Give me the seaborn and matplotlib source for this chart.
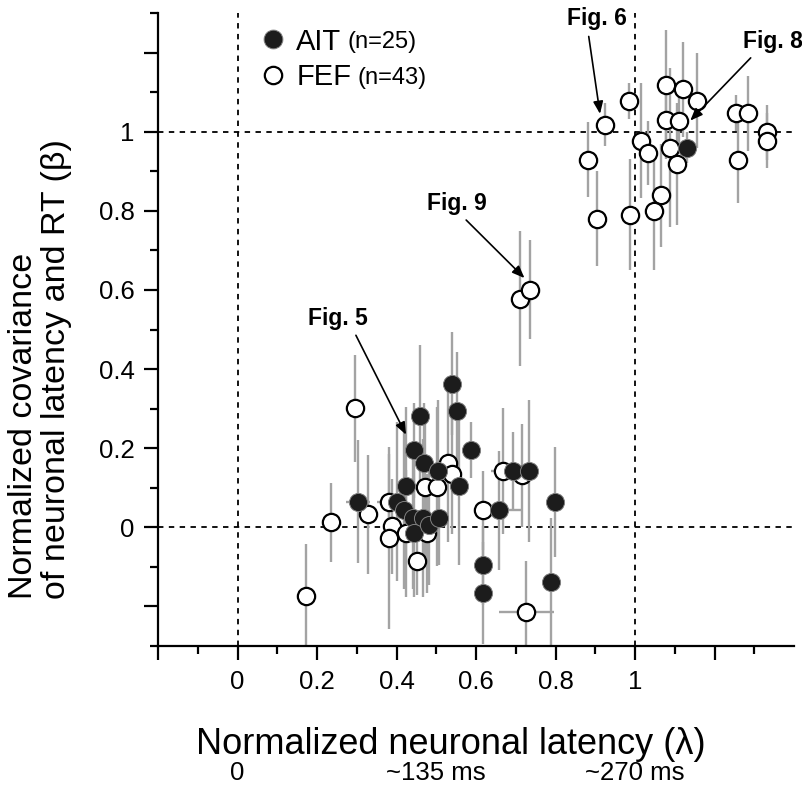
import numpy as np
import pandas as pd
import matplotlib
matplotlib.use("Agg")
import matplotlib.pyplot as plt
from matplotlib.ticker import FixedLocator, FuncFormatter
from matplotlib.lines import Line2D
import matplotlib.transforms as mtransforms
import seaborn as sns

# ---------------- data ----------------
ait_x = [1.131, 0.458, 0.540, 0.553, 0.444, 0.588, 0.470, 0.504, 0.424, 0.557,
         0.692, 0.733, 0.799, 0.657, 0.618, 0.618, 0.788, 0.304, 0.400, 0.420,
         0.441, 0.466, 0.443, 0.481, 0.507]
ait_y = [0.960, 0.282, 0.363, 0.293, 0.195, 0.195, 0.163, 0.142, 0.104, 0.104,
         0.142, 0.142, 0.064, 0.043, -0.096, -0.166, -0.137, 0.065, 0.065, 0.043,
         0.024, 0.024, -0.015, 0.005, 0.024]
ait_yerr = [0.04, 0.18, 0.13, 0.15, 0.12, 0.07, 0.15, 0.18, 0.20, 0.20,
            0.10, 0.18, 0.14, 0.15, 0.10, 0.13, 0.16, 0.155, 0.20, 0.20,
            0.18, 0.20, 0.16, 0.15, 0.12]
ait_xerr = [0.0, 0.0, 0.0, 0.0, 0.0, 0.0, 0.0, 0.0, 0.0, 0.02,
            0.0, 0.0, 0.0, 0.06, 0.0, 0.0, 0.02, 0.03, 0.0, 0.0,
            0.0, 0.0, 0.0, 0.0, 0.0]

fef_x = [0.925, 0.984, 0.881, 0.904, 0.987, 1.015, 1.032, 1.077, 1.120, 1.157,
         1.077, 1.110, 1.087, 1.106, 1.066, 1.047, 1.253, 1.285, 1.331, 1.331,
         1.258, 0.710, 0.736, 0.295, 0.530, 0.540, 0.472, 0.502, 0.667, 0.715,
         0.618, 0.727, 0.173, 0.235, 0.329, 0.382, 0.389, 0.382, 0.424, 0.477,
         0.451]
fef_y = [1.018, 1.078, 0.929, 0.780, 0.790, 0.977, 0.946, 1.118, 1.107, 1.078,
         1.030, 1.028, 0.960, 0.918, 0.839, 0.800, 1.047, 1.047, 0.998, 0.977,
         0.929, 0.578, 0.600, 0.301, 0.163, 0.134, 0.103, 0.103, 0.142, 0.132,
         0.043, -0.215, -0.173, 0.013, 0.033, 0.065, 0.003, -0.028, -0.015, -0.015,
         -0.085]
fef_yerr = [0.055, 0.045, 0.095, 0.12, 0.14, 0.145, 0.08, 0.14, 0.12, 0.12,
            0.10, 0.08, 0.20, 0.155, 0.13, 0.15, 0.045, 0.095, 0.07, 0.07,
            0.11, 0.17, 0.125, 0.135, 0.20, 0.15, 0.18, 0.20, 0.16, 0.13,
            0.10, 0.13, 0.13, 0.10, 0.15, 0.12, 0.12, 0.23, 0.16, 0.15,
            0.085]
fef_xerr = [0.0] * 25 + [0.02, 0.0, 0.0, 0.03, 0.0, 0.0, 0.07, 0.0, 0.02, 0.0,
                         0.03, 0.0, 0.0, 0.0, 0.0, 0.0]

legend_labels = ["AIT", "FEF"]
legend_counts = ["(n=25)", "(n=43)"]

xtick_major = [-0.2, 0.0, 0.2, 0.4, 0.6, 0.8, 1.0, 1.2]
xtick_minor = [-0.1, 0.1, 0.3, 0.5, 0.7, 0.9, 1.1, 1.3]
ytick_major = [-0.2, 0.0, 0.2, 0.4, 0.6, 0.8, 1.0, 1.2]
ytick_minor = [-0.3, -0.1, 0.1, 0.3, 0.5, 0.7, 0.9, 1.1, 1.3]
labelled_ticks = [0.0, 0.2, 0.4, 0.6, 0.8, 1.0]

ms_pos = [0.0, 0.5, 1.0]
ms_labels = ["0", "~135 ms", "~270 ms"]

fig_labels = ["Fig. 6", "Fig. 8", "Fig. 9", "Fig. 5"]

# ---------------- style ----------------
sns.set_style("ticks")
plt.rcParams["font.family"] = ["Liberation Sans", "DejaVu Sans"]
for k in ["text.color", "axes.labelcolor", "xtick.color", "ytick.color", "axes.edgecolor"]:
    plt.rcParams[k] = "black"

df = pd.concat([
    pd.DataFrame({"x": ait_x, "y": ait_y, "yerr": ait_yerr, "xerr": ait_xerr, "area": "AIT"}),
    pd.DataFrame({"x": fef_x, "y": fef_y, "yerr": fef_yerr, "xerr": fef_xerr, "area": "FEF"}),
], ignore_index=True)

fig = plt.figure(figsize=(8.02, 7.87), dpi=100)
ax = fig.add_axes([158 / 802, 1 - 646 / 787, (794 - 158) / 802, (646 - 13) / 787])

ax.set_xlim(-0.2, 1.4)
ax.set_ylim(-0.3, 1.3)

# reference lines
dash = (0, (3, 3))
for v in [0.0, 1.0]:
    ax.axhline(v, color="black", lw=1.3, ls=dash, zorder=0.5)
    ax.axvline(v, color="black", lw=1.3, ls=dash, zorder=0.5)

# error bars
err_col = "#a3a3a3"
ax.errorbar(df["x"], df["y"], yerr=df["yerr"], xerr=df["xerr"], fmt="none",
            ecolor=err_col, elinewidth=1.7, capsize=0, zorder=1)

# markers
sns.scatterplot(data=df[df.area == "FEF"], x="x", y="y", ax=ax, s=155,
                color="white", edgecolor="black", linewidth=1.6, zorder=3, legend=False)
sns.scatterplot(data=df[df.area == "AIT"], x="x", y="y", ax=ax, s=170,
                color="#1c1c1c", edgecolor="#808080", linewidth=0.7, zorder=4, legend=False)

# axes / ticks
sns.despine(ax=ax)
for sp in ["left", "bottom"]:
    ax.spines[sp].set_linewidth(1.6)
    ax.spines[sp].set_color("black")
ax.xaxis.set_major_locator(FixedLocator(xtick_major))
ax.xaxis.set_minor_locator(FixedLocator(xtick_minor))
ax.yaxis.set_major_locator(FixedLocator(ytick_major))
ax.yaxis.set_minor_locator(FixedLocator(ytick_minor))


def fmt(v, pos):
    for t in labelled_ticks:
        if abs(v - t) < 1e-6:
            return "1" if abs(t - 1) < 1e-6 else ("0" if abs(t) < 1e-6 else f"{t:.1f}")
    return ""


ax.xaxis.set_major_formatter(FuncFormatter(fmt))
ax.yaxis.set_major_formatter(FuncFormatter(fmt))
ax.tick_params(which="major", length=10, width=1.6, labelsize=18.5, direction="out", pad=7,
               color="black", labelcolor="black")
ax.tick_params(which="minor", length=5.5, width=1.6, direction="out", color="black")

ax.set_xlabel("Normalized neuronal latency (λ)", fontsize=26, color="black")
ax.xaxis.set_label_coords(0.461, (646 - 745) / 633)
ax.xaxis.label.set_va("center")

ax.set_ylabel("Normalized covariance\nof neuronal latency and RT (β)", fontsize=24.5,
              multialignment="left", linespacing=1.08, color="black")
ax.yaxis.set_label_coords(-0.185, 0.437)
ax.yaxis.label.set_va("center")

# ms labels under the x label
trans = mtransforms.blended_transform_factory(ax.transData, ax.transAxes)
for p, lab in zip(ms_pos, ms_labels):
    ax.text(p, (646 - 773) / 633, lab, transform=trans, ha="center", va="center",
            fontsize=18.5, clip_on=False)

# legend
h_ait = Line2D([], [], ls="none", marker="o", markersize=13.5, markerfacecolor="#1c1c1c",
               markeredgecolor="#808080", markeredgewidth=0.7)
h_fef = Line2D([], [], ls="none", marker="o", markersize=12.5, markerfacecolor="white",
               markeredgecolor="black", markeredgewidth=1.6)
leg = ax.legend([h_ait, h_fef], legend_labels, loc="upper left", bbox_to_anchor=(0.158, 0.977),
                frameon=False, fontsize=21, handlelength=1.0, handletextpad=0.3,
                labelspacing=0.25, borderpad=0, borderaxespad=0)

# figure callouts
callout_text = [(0.904, 1.285), (1.346, 1.229), (0.553, 0.819), (0.253, 0.529)]
callout_tip = [(0.912, 1.045), (1.139, 1.028), (0.722, 0.630), (0.424, 0.234)]
callout_rel = [0.35, 0.22, 0.56, 0.75]
for lab, tp, tip, rp in zip(fig_labels, callout_text, callout_tip, callout_rel):
    ax.annotate(lab, xy=tip, xytext=tp, textcoords="data", ha="center", va="center",
                fontsize=16.5, fontweight="bold", annotation_clip=False,
                arrowprops=dict(arrowstyle="-|>,head_length=0.45,head_width=0.18",
                                color="black", lw=1.2, shrinkA=2, shrinkB=0,
                                relpos=(rp, 0.0)), zorder=6)

# counts next to legend labels (placed after layout is known)
fig.canvas.draw()
renderer = fig.canvas.get_renderer()
inv = fig.transFigure.inverted()
for t, n in zip(leg.get_texts(), legend_counts):
    bb = t.get_window_extent(renderer)
    fx, fy = inv.transform((bb.x1 + 6, bb.y0 + 0.47 * bb.height))
    fig.text(fx, fy, n, ha="left", va="center", fontsize=17, color="black")

fig.savefig("out.png", dpi=100)
